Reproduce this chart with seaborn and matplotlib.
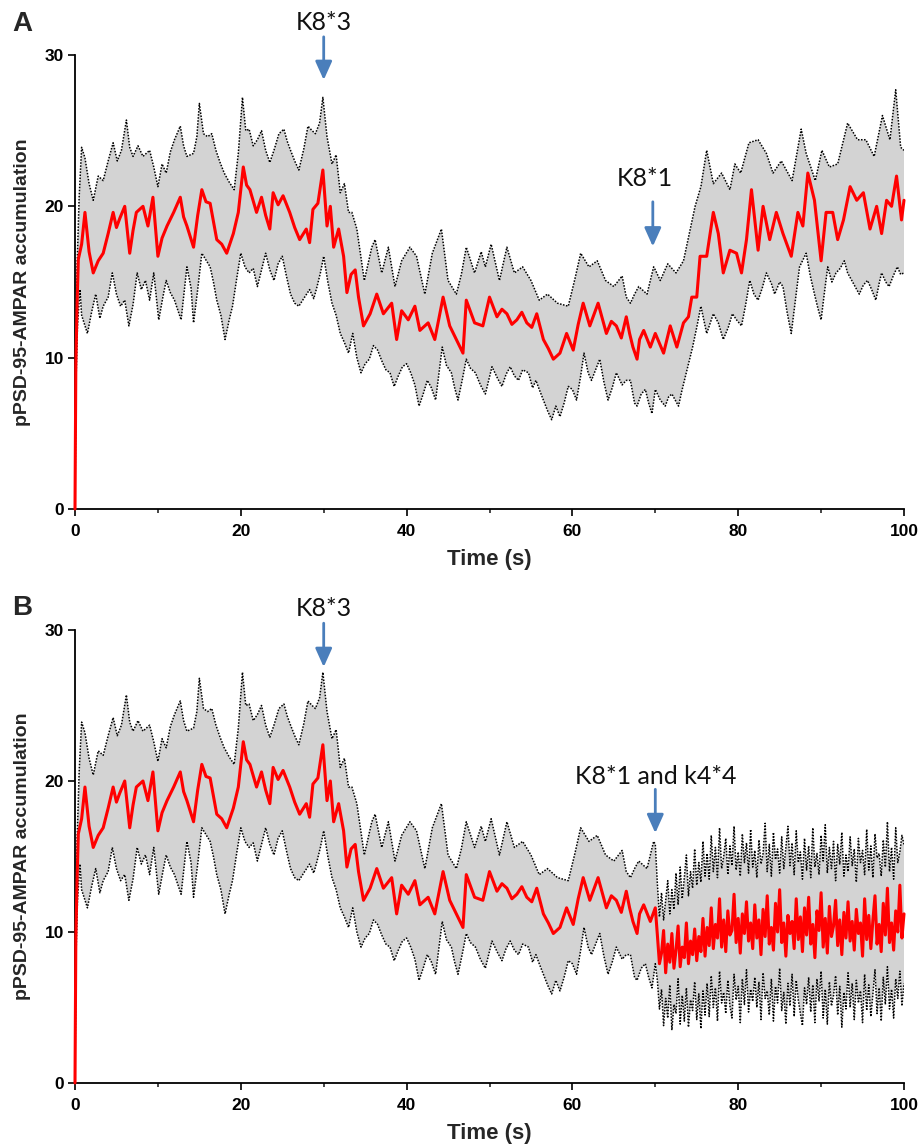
import numpy as np
import pandas as pd
import matplotlib
matplotlib.use("Agg")
import matplotlib.pyplot as plt
import seaborn as sns

# ---- mean trace (red), shared by both panels up to t = 70 s ----
t_red_pre = [0, 0.1, 0.25, 0.4, 0.8, 1.2, 1.7, 2.2, 2.8, 3.4, 4.0, 4.6, 5.0, 5.4, 6.0, 6.6, 7.0, 7.4,
             8.2, 8.8, 9.4, 10.0, 10.5, 11.1, 11.9, 12.7, 13.1, 13.5, 14.3, 14.8, 15.3, 15.8, 16.3,
             17.1, 17.7, 18.3, 19.1, 19.7, 20.3, 20.7, 21.1, 21.9, 22.5, 23.0, 23.5, 23.9, 24.5,
             25.1, 25.9, 26.5, 27.1, 27.9, 28.3, 28.7, 29.3, 29.9, 30.4, 30.8, 31.2, 31.8, 32.4,
             32.8, 33.3, 33.8, 34.2, 34.8, 35.6, 36.4, 37.2, 38.2, 38.8, 39.4, 40.2, 41.0, 41.6,
             42.6, 43.4, 44.4, 45.2, 46.0, 46.8, 47.2, 48.2, 49.2, 50.0, 50.9, 51.5, 52.1, 52.7,
             53.3, 53.9, 54.5, 55.1, 55.7, 56.5, 57.1, 57.7, 58.5, 59.3, 60.1, 60.7, 61.3, 62.1,
             63.1, 63.6, 64.1, 64.7, 65.3, 65.9, 66.5, 66.9, 67.3, 67.8, 68.1, 68.6, 69.4, 70.0]
red_pre = [0, 9.5, 13.5, 16.5, 17.5, 19.6, 17.0, 15.6, 16.4, 16.9, 18.2, 19.6, 18.6, 19.2, 20.0, 16.9,
           18.4, 19.6, 20.0, 18.7, 20.6, 16.7, 17.9, 18.7, 19.6, 20.6, 19.3, 18.7, 17.3, 19.4, 21.1,
           20.3, 20.2, 17.8, 17.5, 16.9, 18.2, 19.6, 22.6, 21.4, 21.1, 19.6, 20.6, 19.4, 18.5, 20.9,
           20.1, 20.7, 19.6, 18.6, 17.8, 18.5, 17.6, 19.8, 20.2, 22.4, 18.7, 20.0, 17.3, 18.5, 16.7,
           14.3, 15.5, 15.8, 14.0, 12.1, 12.9, 14.2, 12.9, 13.6, 11.2, 13.1, 12.5, 13.4, 11.8,
           12.3, 11.2, 14.0, 12.1, 11.2, 10.3, 13.8, 12.3, 12.1, 14.0, 12.7, 13.2, 12.9, 12.2,
           12.5, 13.0, 12.3, 12.0, 12.9, 11.2, 10.6, 9.9, 10.3, 11.6, 10.5, 12.2, 13.6, 12.1,
           13.6, 12.6, 11.6, 12.4, 12.1, 11.3, 12.7, 11.6, 10.7, 9.9, 11.2, 11.8, 10.7, 11.6]

# panel A after 70 s
t_red_a_post = [71.0, 71.8, 72.6, 73.4, 74.0, 74.4, 75.0, 75.4, 76.2, 77.0, 77.6, 78.2, 79.0, 79.8,
                80.4, 81.0, 81.6, 82.4, 83.0, 83.8, 84.6, 85.4, 86.4, 87.2, 87.8, 88.4, 89.2, 90.0,
                90.6, 91.4, 92.0, 92.7, 93.5, 94.3, 95.1, 95.9, 96.7, 97.3, 97.9, 98.5, 99.1, 99.7, 100]
red_a_post = [10.3, 12.1, 10.7, 12.3, 12.7, 14.0, 14.0, 16.7, 16.7, 19.6, 18.2, 15.6, 17.1, 16.9,
              15.6, 17.8, 21.1, 17.1, 20.0, 17.8, 19.6, 18.2, 16.7, 19.6, 18.7, 22.2, 20.4, 16.4,
              19.6, 19.6, 17.8, 19.1, 21.3, 20.4, 20.9, 18.5, 20.0, 18.2, 20.4, 20.0, 22.0, 19.1, 20.4]

# ---- upper bound (dotted black) ----
t_up_pre = [0, 0.1, 0.25, 0.5, 0.8, 1.2, 1.7, 2.2, 2.8, 3.4, 4.0, 4.6, 5.1, 5.6, 6.2, 6.6, 7.0, 7.6,
            8.2, 9.0, 9.5, 10.0, 10.5, 11.0, 11.5, 12.0, 12.7, 13.1, 13.5, 14.3, 14.7, 15.0, 15.5,
            16.0, 16.5, 17.0, 17.5, 18.0, 18.6, 19.2, 19.7, 20.2, 20.6, 21.0, 21.5, 22.0, 22.5,
            23.0, 23.5, 24.0, 24.6, 25.2, 25.6, 26.0, 26.5, 27.0, 27.6, 28.1, 28.6, 29.0, 29.5,
            29.9, 30.4, 31.0, 31.5, 32.0, 32.5, 33.0, 33.4, 34.0, 34.9, 35.8, 36.2, 37.0, 37.8,
            38.6, 39.4, 40.4, 41.2, 42.2, 43.1, 44.2, 45.0, 46.0, 46.6, 47.2, 48.2, 49.0, 49.5,
            50.2, 51.2, 52.1, 53.0, 54.0, 55.0, 56.0, 57.0, 58.2, 59.5, 60.3, 61.0, 62.0, 63.0,
            64.0, 65.0, 66.0, 66.5, 67.0, 67.5, 68.0, 69.0, 69.8, 70.0]
up_pre = [0, 11.5, 16.0, 20.6, 23.9, 23.2, 21.5, 20.4, 22.0, 21.7, 23.0, 24.2, 23.0, 23.7, 25.7, 23.9,
          23.3, 24.0, 23.3, 23.7, 22.6, 21.3, 22.8, 22.2, 23.6, 24.4, 25.3, 24.0, 23.3, 23.5, 24.6,
          26.8, 24.8, 24.6, 24.8, 23.7, 22.9, 22.2, 21.6, 21.1, 23.5, 27.2, 25.0, 25.1, 24.0, 24.4,
          25.0, 23.7, 22.9, 23.7, 24.8, 25.1, 24.3, 23.7, 23.0, 22.4, 23.8, 25.3, 25.0, 24.8, 25.5,
          27.2, 24.6, 22.8, 23.4, 20.9, 21.5, 19.6, 19.6, 18.5, 15.1, 17.3, 17.8, 15.6, 17.3,
          14.7, 16.4, 17.3, 16.7, 14.2, 16.9, 18.5, 15.1, 14.2, 15.5, 17.3, 15.6, 17.0, 16.0,
          17.5, 15.1, 17.3, 15.6, 16.0, 15.1, 13.8, 14.2, 13.6, 13.4, 15.2, 16.9, 16.0, 16.4,
          15.1, 14.7, 15.4, 14.0, 13.6, 14.2, 14.7, 14.2, 16.0, 15.8]
t_up_a_post = [70.6, 71.5, 72.5, 73.4, 74.1, 74.8, 75.5, 76.2, 77.0, 78.0, 79.0, 79.6, 80.3, 81.3,
               82.4, 83.4, 84.2, 85.2, 86.5, 87.6, 88.2, 89.3, 90.1, 91.0, 92.0, 93.2, 94.4, 95.4,
               96.4, 97.4, 98.3, 99.0, 99.6, 100]
up_a_post = [15.1, 16.2, 15.6, 16.4, 18.2, 20.0, 21.3, 23.7, 21.5, 22.2, 21.1, 22.8, 22.2, 24.2,
             24.4, 23.5, 22.2, 23.0, 21.7, 25.1, 23.5, 21.7, 23.7, 22.6, 22.8, 25.5, 24.4, 24.4,
             23.3, 26.0, 24.4, 27.7, 23.9, 23.7]

# ---- lower bound (dotted black) ----
t_lo_pre = [0, 0.1, 0.3, 0.6, 0.8, 1.5, 2.0, 2.5, 3.0, 3.4, 4.0, 4.5, 5.0, 5.5, 6.0, 6.5, 7.0, 7.5,
            8.0, 8.5, 9.0, 9.5, 10.1, 10.6, 11.0, 11.5, 12.0, 12.8, 13.5, 14.0, 14.3, 14.8, 15.3,
            16.3, 16.7, 17.1, 17.6, 18.1, 18.6, 19.0, 19.5, 20.0, 20.5, 21.0, 21.5, 22.0, 22.5,
            23.0, 23.5, 24.0, 24.5, 25.0, 25.5, 26.0, 26.5, 27.0, 27.7, 28.3, 28.8, 29.2, 29.6,
            30.0, 30.5, 31.0, 31.5, 32.0, 32.5, 33.0, 33.5, 34.0, 34.5, 35.0, 35.5, 36.0, 36.5,
            37.0, 37.5, 38.0, 38.5, 39.0, 39.5, 40.0, 40.5, 41.0, 41.5, 42.0, 42.5, 43.0, 43.5,
            44.3, 44.8, 45.4, 45.8, 46.2, 46.7, 47.2, 47.7, 48.3, 48.9, 49.5, 50.3, 51.0, 51.5,
            52.0, 52.5, 53.0, 53.5, 54.0, 54.7, 55.2, 55.6, 56.0, 56.5, 57.0, 57.5, 58.0, 58.5,
            59.0, 59.5, 60.0, 60.5, 61.0, 61.4, 61.9, 62.3, 62.8, 63.3, 63.8, 64.3, 64.8, 65.3,
            66.0, 66.5, 67.0, 67.5, 67.8, 68.3, 68.8, 69.2, 69.6, 70.0]
lo_pre = [0, 8.0, 12.1, 14.5, 12.8, 11.6, 13.0, 14.2, 12.6, 13.4, 14.0, 15.6, 14.2, 13.4, 13.8, 12.1,
          13.5, 15.6, 14.5, 15.1, 13.8, 15.6, 12.5, 14.0, 15.1, 14.3, 13.8, 12.5, 16.0, 14.6, 12.3,
          14.5, 16.9, 16.0, 15.0, 13.8, 12.8, 11.2, 12.5, 13.4, 15.2, 16.9, 16.0, 15.6, 15.9, 14.7,
          15.8, 16.9, 15.8, 15.1, 16.2, 16.7, 15.4, 14.2, 13.6, 13.4, 14.0, 14.5, 13.9, 14.7, 15.6,
          16.7, 15.0, 13.6, 12.8, 11.6, 11.0, 10.3, 11.6, 10.0, 9.0, 9.6, 9.9, 10.8, 10.5,
          9.8, 9.2, 9.0, 8.1, 8.8, 9.4, 9.6, 9.0, 8.2, 6.8, 7.6, 8.5, 8.0, 7.2,
          10.7, 9.5, 9.0, 8.0, 7.2, 8.5, 9.9, 9.3, 9.0, 8.2, 7.6, 9.4, 8.6, 8.1,
          8.9, 9.4, 8.8, 8.5, 9.2, 9.0, 8.0, 8.5, 7.9, 7.2, 6.5, 5.9, 6.8, 6.1,
          7.0, 8.1, 7.9, 7.2, 8.8, 10.3, 9.0, 8.5, 9.2, 9.9, 8.4, 7.2, 8.0, 9.0,
          8.2, 8.5, 8.5, 7.0, 6.8, 7.6, 7.9, 7.0, 6.3, 7.9]
t_lo_a_post = [70.6, 71.2, 71.6, 72.0, 72.8, 73.2, 73.6, 74.0, 74.5, 75.0, 75.5, 76.2, 77.0, 77.6,
               78.2, 78.8, 79.3, 79.8, 80.4, 80.9, 81.4, 81.9, 82.4, 82.9, 83.4, 84.0, 84.4, 85.0,
               85.4, 85.9, 86.4, 86.9, 87.4, 88.2, 88.7, 89.2, 89.6, 90.0, 90.4, 90.8, 91.3, 91.8,
               92.3, 92.8, 93.2, 93.7, 94.2, 94.6, 95.1, 95.6, 96.1, 96.6, 97.0, 97.3, 97.8, 98.2,
               98.7, 99.2, 99.6, 100]
lo_a_post = [7.2, 6.8, 7.4, 7.6, 6.8, 7.8, 8.7, 9.6, 10.7, 12.0, 13.4, 11.6, 12.9, 12.3,
             11.2, 12.0, 12.9, 12.5, 12.1, 13.5, 15.1, 14.2, 13.8, 14.6, 15.6, 14.9, 14.2, 15.0,
             14.7, 13.0, 11.6, 13.8, 16.0, 16.9, 15.4, 14.2, 13.3, 12.5, 14.3, 16.0, 15.0, 15.6,
             15.9, 16.4, 15.6, 15.1, 14.6, 14.2, 14.8, 15.1, 14.5, 13.8, 14.9, 15.6, 15.0, 14.7,
             15.4, 16.0, 15.5, 15.6]

# ---- panel B after 70 s (fast fluctuating regime), read every 0.25 s ----
t_b_post = np.arange(70.25, 100.01, 0.25).tolist()
red_b_post = [9.8, 7.9, 8.6, 10.1, 7.3, 9.2, 8.0, 9.9, 7.6, 8.8, 10.4, 7.7, 9.0, 8.3, 10.6, 7.9,
              9.4, 8.5, 10.2, 8.1, 9.7, 8.7, 10.9, 8.4,
              10.3, 9.1, 11.6, 8.9, 10.5, 9.6, 12.2, 9.0, 10.8, 8.7, 11.4, 9.8, 10.1, 12.5, 9.3,
              10.9, 8.6, 11.2, 9.9, 12.0, 9.4, 10.6, 8.9, 11.8,
              9.6, 10.8, 8.5, 11.5, 9.7, 12.4, 9.2, 10.3, 8.8, 11.9, 10.0, 12.8, 9.3, 10.6, 8.4,
              11.1, 9.9, 10.7, 8.9, 12.2, 9.5, 11.0, 8.7, 11.6,
              9.8, 12.3, 9.2, 10.5, 8.3, 11.4, 10.1, 12.6, 9.0, 10.9, 8.6, 11.7, 9.7, 10.4, 12.1,
              9.1, 10.8, 8.5, 11.3, 9.6, 12.0, 9.4, 10.7, 8.8,
              11.5, 9.9, 10.6, 8.4, 12.2, 9.5, 11.1, 8.9, 10.8, 12.4, 9.2, 10.5, 8.7, 11.9, 9.8,
              12.9, 9.3, 10.6, 8.8, 11.4, 10.0, 13.1, 9.6, 11.2]
up_b_post = [13.2, 11.0, 12.6, 10.8, 12.1, 13.4, 11.2, 12.8, 11.5, 13.9, 11.8, 14.3, 12.2, 13.6,
             15.1, 12.4, 14.0, 12.9, 15.5, 13.1, 14.6, 13.3, 16.0, 13.7,
             15.2, 13.5, 16.4, 14.0, 15.6, 13.6, 16.9, 14.2, 15.0, 16.2, 13.8, 15.7, 14.4, 17.0,
             14.1, 15.3, 13.7, 16.5, 14.6, 15.9, 13.9, 16.8, 14.3, 15.4,
             13.6, 16.1, 14.5, 15.2, 17.2, 14.0, 15.8, 13.7, 16.6, 14.8, 15.5, 13.9, 16.3, 14.2,
             15.6, 17.0, 14.4, 15.9, 13.8, 16.7, 14.6, 15.3, 13.5, 16.2,
             14.1, 15.7, 13.6, 16.9, 14.3, 15.2, 13.8, 16.4, 14.7, 17.1, 13.9, 15.6, 14.2, 16.0,
             13.4, 15.8, 14.5, 16.6, 13.7, 15.1, 14.0, 16.3, 14.4, 15.5,
             13.3, 16.2, 14.6, 15.4, 13.8, 16.8, 14.1, 15.7, 13.6, 16.5, 14.9, 15.2, 13.7, 16.1,
             14.3, 17.3, 14.0, 15.6, 13.5, 16.9, 14.6, 15.3, 16.4, 15.8]
lo_b_post = [6.8, 4.9, 6.2, 3.8, 5.6, 4.3, 6.5, 3.5, 5.2, 4.6, 6.9, 3.9, 5.8, 4.1, 6.3, 3.7,
             5.5, 4.8, 6.7, 4.2, 5.9, 3.6, 6.1, 4.5,
             6.6, 4.4, 7.1, 5.0, 6.3, 4.1, 7.4, 5.3, 6.0, 4.6, 6.8, 5.1, 4.3, 7.2, 5.5, 6.4,
             4.0, 6.9, 5.2, 7.5, 4.7, 6.2, 5.4, 7.0,
             5.0, 6.7, 4.2, 7.3, 5.6, 6.1, 4.5, 6.9, 4.1, 6.4, 5.3, 7.6, 4.8, 6.0, 3.9, 6.6,
             5.1, 7.2, 4.4, 6.8, 5.5, 4.6, 3.8, 6.3,
             5.2, 7.0, 4.7, 6.5, 4.0, 6.9, 5.4, 7.4, 4.3, 6.2, 3.9, 6.7, 5.1, 5.8, 7.1, 4.5,
             6.4, 3.7, 6.0, 4.9, 7.3, 5.0, 6.6, 4.2,
             6.8, 5.3, 6.1, 4.0, 7.2, 4.8, 6.5, 4.4, 5.9, 7.5, 4.6, 6.3, 4.1, 7.0, 5.2, 7.7,
             4.9, 6.2, 4.3, 6.9, 5.6, 7.4, 5.1, 6.6]

x_ticks = [0, 20, 40, 60, 80, 100]
y_ticks = [0, 10, 20, 30]

sns.set_style("ticks")
plt.rcParams['font.family'] = ['Liberation Sans', 'DejaVu Sans']

ARROW_BLUE = '#4a7ebb'


def draw_panel(ax, t_red, red, t_up, up, t_lo, lo):
    t_up, up = np.asarray(t_up), np.asarray(up)
    t_lo, lo = np.asarray(t_lo), np.asarray(lo)
    # grey band between the bounds
    ax.fill(np.concatenate([t_up, t_lo[::-1]]), np.concatenate([up, lo[::-1]]),
            color='#d3d3d3', lw=0, zorder=1)
    for tt, yy in ((t_up, up), (t_lo, lo)):
        df = pd.DataFrame({'t': tt, 'v': yy})
        sns.lineplot(data=df, x='t', y='v', ax=ax, color='black', lw=1.1,
                     linestyle=(0, (1, 1)), estimator=None, sort=False, zorder=2)
    df = pd.DataFrame({'t': t_red, 'v': red})
    sns.lineplot(data=df, x='t', y='v', ax=ax, color='red', lw=2.2,
                 estimator=None, sort=False, zorder=3, clip_on=False)

    ax.set_xlim(0, 100)
    ax.set_ylim(0, 30)
    ax.set_xticks(x_ticks)
    ax.set_xticks([10, 30, 50, 70, 90], minor=True)
    ax.set_yticks(y_ticks)
    ax.tick_params(axis='both', which='major', length=5, width=1.2, labelsize=12.5, colors='black')
    ax.tick_params(axis='x', which='major', pad=6)
    ax.tick_params(axis='y', which='major', pad=3)
    ax.tick_params(axis='x', which='minor', length=3, width=1.2)
    for lab in ax.get_xticklabels() + ax.get_yticklabels():
        lab.set_fontweight('bold')
    for s in ('left', 'bottom'):
        ax.spines[s].set_linewidth(1.3)
        ax.spines[s].set_color('black')
    sns.despine(ax=ax)
    ax.set_xlabel('Time (s)', fontsize=16, fontweight='bold', labelpad=7)
    ax.set_ylabel('pPSD-95-AMPAR accumulation', fontsize=14, fontweight='bold', labelpad=10)


def mark(ax, x_arrow, y_from, y_to, x_text, y_text, label):
    ax.annotate('', xy=(x_arrow, y_to), xytext=(x_arrow, y_from), annotation_clip=False,
                arrowprops=dict(arrowstyle='-|>,head_length=0.8,head_width=0.36',
                                mutation_scale=14, color=ARROW_BLUE, lw=2, shrinkA=0, shrinkB=0))
    ax.text(x_text, y_text, label, ha='center', va='center', fontsize=18,
            family=['Lato', 'DejaVu Sans'], color='#111111', clip_on=False)


fig = plt.figure(figsize=(9.21, 11.48), dpi=100)
axA = fig.add_axes([75 / 921, 1 - 509 / 1148, 829 / 921, 454 / 1148])
axB = fig.add_axes([75 / 921, 1 - 1083 / 1148, 829 / 921, 453 / 1148])

draw_panel(axA, t_red_pre + t_red_a_post, red_pre + red_a_post,
           t_up_pre + t_up_a_post, up_pre + up_a_post,
           t_lo_pre + t_lo_a_post, lo_pre + lo_a_post)
draw_panel(axB, t_red_pre + t_b_post, red_pre + red_b_post,
           t_up_pre + t_b_post, up_pre + up_b_post,
           t_lo_pre + t_b_post, lo_pre + lo_b_post)

mark(axA, 30.0, 31.2, 28.35, 30.0, 32.15, 'K8*3')
mark(axA, 69.7, 20.3, 17.35, 68.7, 21.85, 'K8*1')
mark(axB, 30.0, 30.45, 27.55, 30.0, 31.4, 'K8*3')
mark(axB, 70.0, 19.45, 16.55, 70.0, 20.3, 'K8*1 and k4*4')

fig.text(22 / 921, 1 - 24 / 1148, 'A', fontsize=20, fontweight='bold', ha='center', va='center')
fig.text(22 / 921, 1 - 608 / 1148, 'B', fontsize=20, fontweight='bold', ha='center', va='center')

fig.savefig('out.png', dpi=100)
